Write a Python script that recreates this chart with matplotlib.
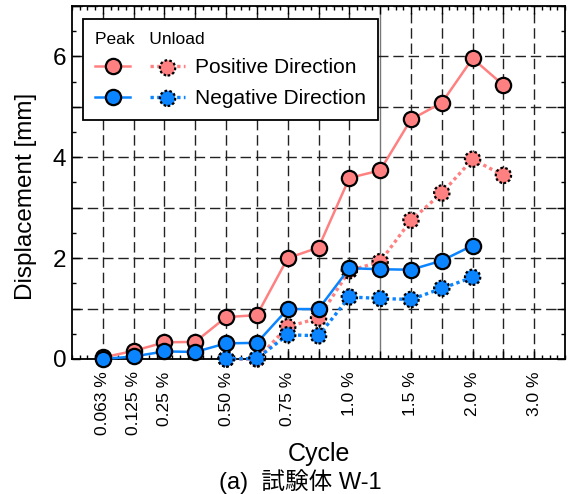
import matplotlib
matplotlib.use("Agg")
import matplotlib.pyplot as plt
from matplotlib.ticker import MultipleLocator, FixedLocator, FixedFormatter, FuncFormatter
from matplotlib.legend_handler import HandlerTuple

plt.rcParams["font.family"] = ["Liberation Sans", "Noto Sans CJK JP", "DejaVu Sans"]

# load step numbers (x) and tick labels
tick_pos = list(range(1, 16))
tick_labels = ["0.063 %", "0.125 %", "0.25 %", "", "0.50 %", "", "0.75 %", "",
               "1.0 %", "", "1.5 %", "", "2.0 %", "", "3.0 %"]

step_pos = list(range(1, 15))
pos_peak = [0.03, 0.16, 0.33, 0.34, 0.83, 0.87, 2.00, 2.21, 3.59, 3.74, 4.75, 5.08, 5.96, 5.43]
step_pos_unload = list(range(5, 15))
pos_unload = [0.0, 0.0, 0.64, 0.81, 1.75, 1.93, 2.75, 3.29, 3.96, 3.64]

step_neg = list(range(1, 14))
neg_peak = [0.0, 0.05, 0.15, 0.14, 0.31, 0.32, 0.99, 0.99, 1.80, 1.78, 1.77, 1.95, 2.25]
step_neg_unload = list(range(5, 14))
neg_unload = [0.0, 0.01, 0.48, 0.46, 1.23, 1.20, 1.18, 1.40, 1.62]

pink = "#ff8080"
blue = "#0a84ff"

fig = plt.figure(figsize=(5.68, 4.94), dpi=100)
ax = fig.add_axes([0.1268, 0.2733, 0.8680, 0.7146])

ms = 11


def peak_line(x, y, color):
    return ax.plot(x, y, "-o", color=color, lw=1.8, ms=ms, mfc=color, mec="k",
                   mew=1.6, clip_on=False, zorder=3)[0]


def unload_line(x, y, color):
    ln = ax.plot(x, y, linestyle=(0, (1, 1)), color=color, lw=2.4, clip_on=False, zorder=3)[0]
    pts = ax.scatter(x, y, s=ms ** 2, c=color, edgecolors="k", linewidths=1.6,
                     linestyles=(0, (1.2, 1.0)), clip_on=False, zorder=3)
    return (ln, pts)


h_pp = peak_line(step_pos, pos_peak, pink)
h_pu = unload_line(step_pos_unload, pos_unload, pink)
h_np = peak_line(step_neg, neg_peak, blue)
h_nu = unload_line(step_neg_unload, neg_unload, blue)

ax.set_xlim(0, 16)
ax.set_ylim(0, 7)

ax.xaxis.set_major_locator(FixedLocator(tick_pos))
ax.xaxis.set_major_formatter(FixedFormatter(tick_labels))
ax.xaxis.set_minor_locator(MultipleLocator(0.25))
ax.yaxis.set_major_locator(MultipleLocator(1))
ax.yaxis.set_major_formatter(FuncFormatter(lambda v, p: "%d" % v if int(round(v)) % 2 == 0 else ""))
ax.yaxis.set_minor_locator(MultipleLocator(0.5))

ax.tick_params(which="both", direction="in", top=True, right=True, width=1.0)
ax.tick_params(which="major", length=6)
ax.tick_params(which="minor", length=3)
ax.tick_params(axis="x", which="major", labelsize=12.5, labelrotation=90, pad=9)
ax.tick_params(axis="y", which="major", labelsize=17.5, pad=4)
for s in ax.spines.values():
    s.set_linewidth(1.3)

ax.grid(True, which="major", color="#222222", lw=1.0, linestyle=(0, (7.5, 3.5)))
ax.set_axisbelow(True)
# the 1.0 % line is drawn solid grey in the original
gl = ax.get_xgridlines()
gl[9].set_linestyle("-")
gl[9].set_color("#777777")

ax.set_ylabel("Displacement [mm]", fontsize=17.5)
ax.yaxis.set_label_coords(-0.072, 0.462)
ax.set_xlabel("Cycle", fontsize=18, labelpad=5)
fig.text(300 / 568, 0.026, "(a)  試験体 W-1", fontsize=17, ha="center", va="center")

leg = ax.legend([(h_pp, h_pu), (h_np, h_nu)], ["Positive Direction", "Negative Direction"],
                handler_map={(h_pp, h_pu): HandlerTuple(ndivide=None, pad=0.96),
                             (h_np, h_nu): HandlerTuple(ndivide=None, pad=0.96)},
                loc="upper left", bbox_to_anchor=(0.022, 0.962), borderaxespad=0,
                fontsize=15, handlelength=4.3, handletextpad=0.48, numpoints=1,
                scatterpoints=1, labelspacing=0.55, borderpad=0.6,
                title="Peak   Unload", title_fontsize=12.5, alignment="left",
                fancybox=False, framealpha=1, edgecolor="k")
leg.get_frame().set_linewidth(1.3)

fig.savefig("out.png", dpi=100)
